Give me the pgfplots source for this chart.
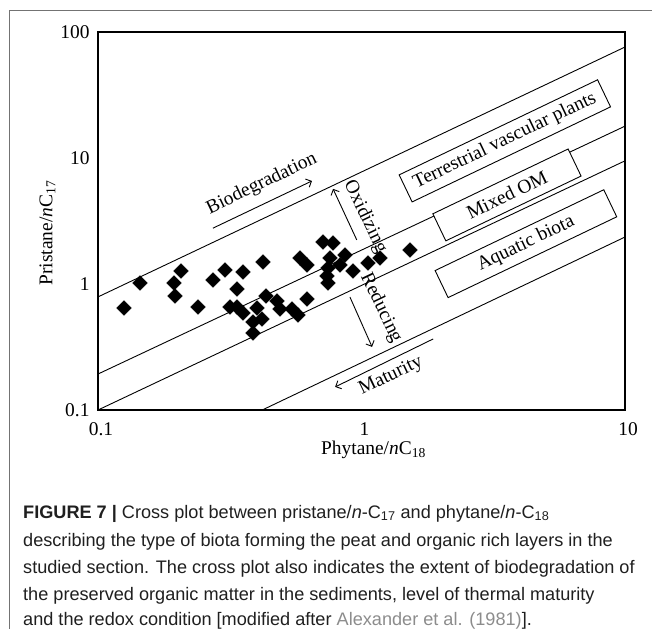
\documentclass[border=0pt]{standalone}
\usepackage{fontspec}
\setmainfont{Liberation Serif}
\newfontfamily\capfont{Liberation Sans}
\usepackage{pgfplots}
\pgfplotsset{compat=1.18}
\usetikzlibrary{arrows.meta}

\pgfplotstableread{
x y
0.1256 0.645
0.1443 1.018
0.1942 1.018
0.2065 1.268
0.196 0.804
0.2395 0.657
0.2732 1.076
0.3034 1.291
0.3369 0.912
0.355 1.245
0.4227 1.495
0.317 0.657
0.3369 0.657
0.355 0.589
0.4013 0.645
0.3875 0.499
0.419 0.527
0.3875 0.408
0.434 0.804
0.4778 0.733
0.4906 0.633
0.5447 0.633
0.574 0.568
0.621 0.760
0.584 1.608
0.621 1.415
0.714 2.154
0.7795 2.115
0.7594 1.608
0.866 1.699
0.829 1.415
0.746 1.340
0.928 1.268
0.740 1.157
0.746 1.018
1.059 1.468
1.175 1.608
1.528 1.862
}\samples

\begin{document}
\begin{tikzpicture}[x=1bp,y=1bp, >={Straight Barb[length=4.5bp,width=9bp]}]
\useasboundingbox (0,0) rectangle (652,-629);
\draw[black!55, line width=0.8bp] (9,-629) -- (9,-10) -- (652,-10);

\begin{axis}[
  at={(98bp,-410bp)}, anchor=south west,
  scale only axis, width=527bp, height=378bp,
  xmode=log, ymode=log,
  xmin=0.1, xmax=10, ymin=0.1, ymax=100,
  xtick={0.1,1,10}, ytick={0.1,1,10,100},
  xticklabels={\textrm{0.1},\textrm{1},\textrm{10}},
  yticklabels={\textrm{0.1},\textrm{1},\textrm{10},\textrm{100}},
  tick style={draw=none},
  minor tick style={draw=none},
  axis line style={line width=1.6bp},
  tick label style={font=\fontsize{19.5}{22}\selectfont},
  xticklabel style={yshift=-9bp, xshift=3bp},
  yticklabel style={xshift=-5bp},
  label style={font=\fontsize{19.5}{22}\selectfont},
  xlabel={Phytane/\textit{n}C\textsubscript{18}},
  ylabel={Pristane/\textit{n}C\textsubscript{17}},
  xlabel style={yshift=2bp, xshift=12bp},
  ylabel style={yshift=-2bp, xshift=-12bp},
  clip=false,
]
\addplot[black, line width=0.9bp] coordinates {(0.1,0.79) (10,76)};
\addplot[black, line width=0.9bp] coordinates {(0.1,0.193) (10,17.9)};
\addplot[black, line width=0.9bp] coordinates {(0.1,0.1) (10,9.5)};
\addplot[black, line width=0.9bp] coordinates {(0.42,0.1) (10,2.36)};
\addplot[only marks, mark=square*, mark size=5.2bp, mark options={rotate=45, fill=black, draw=black}] table[x=x,y=y] {\samples};

\begin{scope}[font=\fontsize{19.5}{22}\selectfont]
\node[rotate=25.6] at (rel axis cs:0.311,0.598) {Biodegradation};
\draw[->, line width=0.9bp] (rel axis cs:0.218,0.481) -- (rel axis cs:0.406,0.606);
\node[rotate=-64.4] at (rel axis cs:0.507,0.511) {Oxidizing};
\draw[->, line width=0.9bp] (rel axis cs:0.491,0.450) -- (rel axis cs:0.446,0.585);
\node[rotate=-64.4] at (rel axis cs:0.537,0.270) {Reducing};
\draw[->, line width=0.9bp] (rel axis cs:0.478,0.299) -- (rel axis cs:0.520,0.167);
\node[rotate=25.6] at (rel axis cs:0.556,0.090) {Maturity};
\draw[->, line width=0.9bp] (rel axis cs:0.636,0.188) -- (rel axis cs:0.450,0.061);
\node[rotate=25.6, draw, line width=0.9bp, fill=white, minimum width=220bp, minimum height=30bp, inner sep=2bp] at (rel axis cs:0.772,0.712) {Terrestrial vascular plants};
\node[rotate=25.6, draw, line width=0.9bp, fill=white, minimum width=150bp, minimum height=30bp, inner sep=2bp] at (rel axis cs:0.776,0.569) {Mixed OM};
\node[rotate=25.6, draw, line width=0.9bp, fill=white, minimum width=187bp, minimum height=30bp, inner sep=2bp] at (rel axis cs:0.812,0.440) {Aquatic biota};
\end{scope}
\end{axis}

\begin{scope}[every node/.style={anchor=base west, inner sep=0pt, font=\capfont\fontsize{18.2}{22}\selectfont, text=black!88}]
\node at (23,-518) {\textbf{FIGURE 7 |} Cross plot between pristane/\textit{n}-C\textsubscript{17} and phytane/\textit{n}-C\textsubscript{18}};
\node at (23,-546) {describing the type of biota forming the peat and organic rich layers in the};
\node at (23,-573) {studied section. The cross plot also indicates the extent of biodegradation of};
\node at (23,-600) {the preserved organic matter in the sediments, level of thermal maturity};
\node at (23,-625) {and the redox condition [modified after \textcolor{black!45}{Alexander et al. (1981)}].};
\end{scope}
\end{tikzpicture}
\end{document}
